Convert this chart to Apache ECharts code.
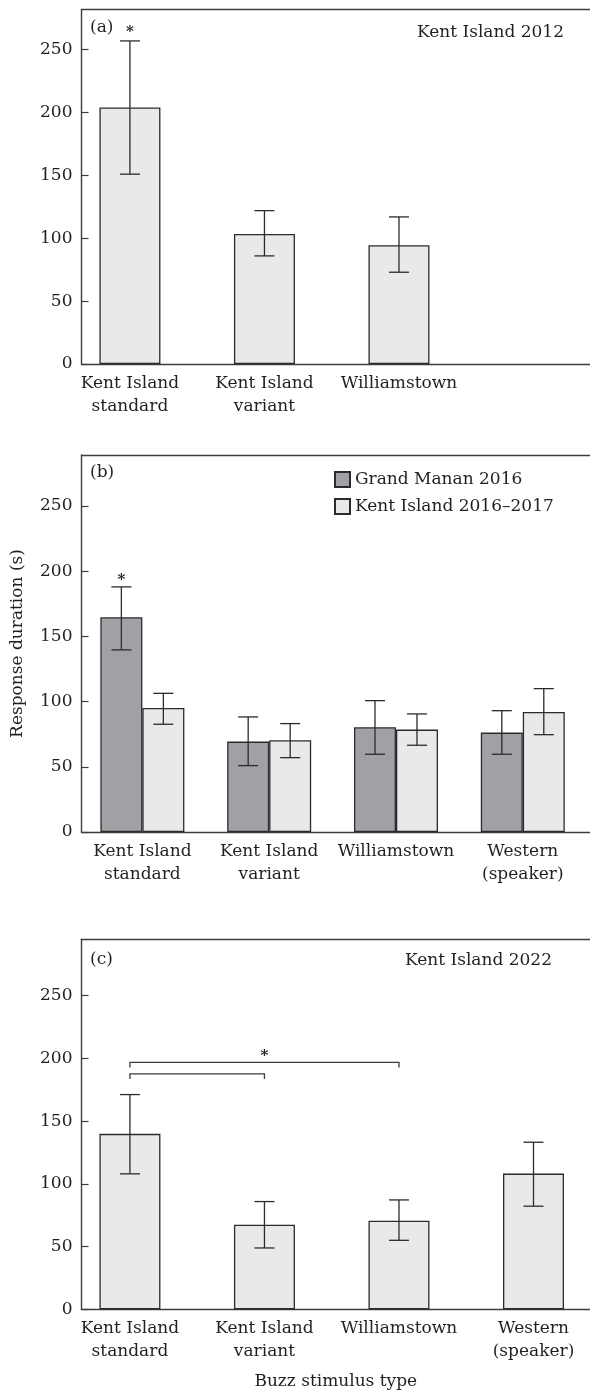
<!DOCTYPE html>
<html>
<head>
<meta charset="utf-8">
<title>Response duration by buzz stimulus type</title>
<script src="https://cdn.jsdelivr.net/npm/echarts@6/dist/echarts.min.js"></script>
<style>
  html, body { margin: 0; padding: 0; background: #ffffff; }
  #chart { width: 590px; height: 1397px; }
</style>
</head>
<body>
<div id="chart"></div>
<script>
// ---- data -------------------------------------------------------------
const categoriesA = ['Kent Island\nstandard', 'Kent Island\nvariant', 'Williamstown'];
const categoriesBC = ['Kent Island\nstandard', 'Kent Island\nvariant', 'Williamstown', 'Western\n(speaker)'];
const yTicks = [0, 50, 100, 150, 200, 250];
const yMax = [282, 289, 295];

// (a) Kent Island 2012
const meanA = [204, 103.5, 94.5];
const lowA = [151, 86, 73];
const highA = [257, 122, 117];
const starA = [[0, 267]];

// (b) Grand Manan 2016 vs Kent Island 2016–2017
const seriesNamesB = ['Grand Manan 2016', 'Kent Island 2016–2017'];
const meanGM = [164.6, 69.3, 80.3, 76.2];
const lowGM = [139.6, 50.9, 59.6, 59.6];
const highGM = [187.9, 88.2, 100.7, 93];
const meanKI = [95.1, 70.3, 78.5, 92];
const lowKI = [82.6, 57, 66.5, 74.6];
const highKI = [106.3, 83.1, 90.5, 109.9];
const starB = [[0, 195.8]];

// (c) Kent Island 2022
const meanC = [139.9, 67.5, 70.7, 108.2];
const lowC = [108, 48.9, 55, 82.2];
const highC = [171.2, 85.9, 87.2, 133.2];
// pairwise comparisons: [from category, to category, bracket height]
const bracketsC = [[0, 2, 196.8], [0, 1, 187.7]];
const starC = [[1, 204.7]];

// ---- styles -----------------------------------------------------------
const FONT = 'DejaVu Serif';
const FS = 17;
const TEXT = '#231f20';
const AXIS = '#3c3c3c';
const EDGE = '#2b2b2b';
const LIGHT = '#e9e9eb';
const DARK = '#a0a1a5';
const BAR_W = 61;
const BAR_W_B = 42;

const grids = [
  { left: 81.5, right: 0, top: 9.5, height: 354.5 },
  { left: 81.5, right: 0, top: 455, height: 377 },
  { left: 81.5, right: 0, top: 939.3, height: 370 }
];
const xRanges = [[-0.36, 3.42], [-0.48, 3.53], [-0.36, 3.42]];

function bottomAxis(i, cats) {
  return {
    type: 'value', gridIndex: i, position: 'bottom',
    min: xRanges[i][0], max: xRanges[i][1],
    axisLine: { show: true, onZero: false, lineStyle: { color: AXIS, width: 1.4 } },
    axisTick: { show: false },
    splitLine: { show: false },
    axisLabel: {
      customValues: cats.map((c, k) => k),
      formatter: v => cats[Math.round(v)] || '',
      color: TEXT, fontFamily: FONT, fontSize: FS, lineHeight: 23, margin: 8
    }
  };
}
function topAxis(i) {
  return {
    type: 'value', gridIndex: i, position: 'top',
    min: xRanges[i][0], max: xRanges[i][1],
    axisLine: { show: true, onZero: false, lineStyle: { color: AXIS, width: 1.4 } },
    axisTick: { show: false }, axisLabel: { show: false }, splitLine: { show: false }
  };
}
function leftAxis(i) {
  return {
    type: 'value', gridIndex: i, min: 0, max: yMax[i],
    axisLine: { show: true, onZero: false, lineStyle: { color: AXIS, width: 1.4 } },
    axisTick: { show: true, inside: true, length: 7, customValues: yTicks, lineStyle: { color: AXIS, width: 1.2 } },
    axisLabel: { customValues: yTicks, color: TEXT, fontFamily: FONT, fontSize: FS, margin: 9 },
    splitLine: { show: false }
  };
}

function barSeries(name, means, grid, color, width) {
  return {
    name: name, type: 'bar',
    xAxisIndex: grid * 2, yAxisIndex: grid,
    barWidth: width, barGap: '0%',
    data: means.map((m, k) => [k, m]),
    itemStyle: { color: color, borderColor: EDGE, borderWidth: 1.3 },
    emphasis: { disabled: true },
    silent: true, z: 2
  };
}

// vertical error bars with caps; shift moves them onto a grouped bar
function errorSeries(lows, highs, grid, shift) {
  return {
    type: 'custom',
    xAxisIndex: grid * 2, yAxisIndex: grid,
    data: lows.map((lo, k) => [k, lo, highs[k]]),
    encode: { x: 0, y: [1, 2] },
    silent: true, z: 4,
    renderItem: function (params, api) {
      const lo = api.coord([api.value(0), api.value(1)]);
      const hi = api.coord([api.value(0), api.value(2)]);
      const x = lo[0] + shift;
      const cap = 10;
      const style = { stroke: EDGE, lineWidth: 1.3 };
      return {
        type: 'group',
        children: [
          { type: 'line', shape: { x1: x, y1: lo[1], x2: x, y2: hi[1] }, style: style },
          { type: 'line', shape: { x1: x - cap, y1: hi[1], x2: x + cap, y2: hi[1] }, style: style },
          { type: 'line', shape: { x1: x - cap, y1: lo[1], x2: x + cap, y2: lo[1] }, style: style }
        ]
      };
    }
  };
}

function starSeries(points, grid, shift) {
  return {
    type: 'custom',
    xAxisIndex: grid * 2, yAxisIndex: grid,
    data: points,
    encode: { x: 0, y: 1 },
    silent: true, z: 5,
    renderItem: function (params, api) {
      const p = api.coord([api.value(0), api.value(1)]);
      return {
        type: 'text',
        style: {
          text: '*', x: p[0] + shift, y: p[1] + 4,
          align: 'center', verticalAlign: 'middle',
          fontFamily: FONT, fontSize: 15, fontWeight: 'bold', fill: TEXT
        }
      };
    }
  };
}

function bracketSeries(brackets, grid) {
  return {
    type: 'custom',
    xAxisIndex: grid * 2, yAxisIndex: grid,
    data: brackets,
    encode: { x: [0, 1], y: 2 },
    silent: true, z: 5,
    renderItem: function (params, api) {
      const a = api.coord([api.value(0), api.value(2)]);
      const b = api.coord([api.value(1), api.value(2)]);
      const drop = 5;
      return {
        type: 'polyline',
        shape: { points: [[a[0], a[1] + drop], [a[0], a[1]], [b[0], b[1]], [b[0], b[1] + drop]] },
        style: { stroke: AXIS, lineWidth: 1.3, fill: null }
      };
    }
  };
}

const xAxes = [
  bottomAxis(0, categoriesA), topAxis(0),
  bottomAxis(1, categoriesBC), topAxis(1),
  bottomAxis(2, categoriesBC), topAxis(2)
];
xAxes[4].name = 'Buzz stimulus type';
xAxes[4].nameLocation = 'middle';
xAxes[4].nameGap = 64;
xAxes[4].nameTextStyle = { color: TEXT, fontFamily: FONT, fontSize: FS };

const yAxes = [leftAxis(0), leftAxis(1), leftAxis(2)];
yAxes[1].name = 'Response duration (s)';
yAxes[1].nameLocation = 'middle';
yAxes[1].nameGap = 55;
yAxes[1].nameTextStyle = { color: TEXT, fontFamily: FONT, fontSize: FS };

function panelText(text, x, y, align) {
  return {
    type: 'text', x: x, y: y,
    style: { text: text, align: align, verticalAlign: 'middle', fontFamily: FONT, fontSize: FS, fill: TEXT }
  };
}

const option = {
  animation: false,
  backgroundColor: '#ffffff',
  grid: grids,
  xAxis: xAxes,
  yAxis: yAxes,
  legend: {
    data: seriesNamesB,
    orient: 'vertical', left: 329, top: 466,
    itemWidth: 15, itemHeight: 15, itemGap: 10,
    icon: 'rect', selectedMode: false,
    textStyle: { color: TEXT, fontFamily: FONT, fontSize: FS, lineHeight: 16 }
  },
  graphic: [
    panelText('(a)', 90, 27.5, 'left'),
    panelText('Kent Island 2012', 564, 32.5, 'right'),
    panelText('(b)', 90, 473, 'left'),
    panelText('(c)', 90, 960, 'left'),
    panelText('Kent Island 2022', 552, 961, 'right')
  ],
  series: [
    barSeries('Kent Island 2012', meanA, 0, LIGHT, BAR_W),
    errorSeries(lowA, highA, 0, 0),
    starSeries(starA, 0, 0),

    barSeries(seriesNamesB[0], meanGM, 1, DARK, BAR_W_B),
    barSeries(seriesNamesB[1], meanKI, 1, LIGHT, BAR_W_B),
    errorSeries(lowGM, highGM, 1, -BAR_W_B / 2),
    errorSeries(lowKI, highKI, 1, BAR_W_B / 2),
    starSeries(starB, 1, -BAR_W_B / 2),

    barSeries('Kent Island 2022', meanC, 2, LIGHT, BAR_W),
    errorSeries(lowC, highC, 2, 0),
    bracketSeries(bracketsC, 2),
    starSeries(starC, 2, 0)
  ]
};

const chart = echarts.init(document.getElementById('chart'), null, { renderer: 'canvas' });
chart.setOption(option);
</script>
</body>
</html>
